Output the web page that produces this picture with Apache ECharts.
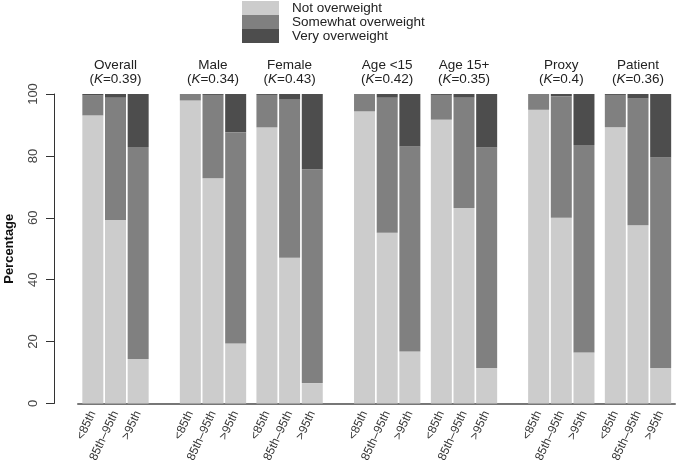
<!DOCTYPE html>
<html>
<head>
<meta charset="utf-8">
<script src="https://cdn.jsdelivr.net/npm/echarts@6/dist/echarts.min.js"></script>
<style>html,body{margin:0;padding:0;background:#fff}#c{width:676px;height:467px}</style>
</head>
<body>
<div id="c"></div>
<script>
// ---- data ----
var groups = ['Overall', 'Male', 'Female', 'Age <15', 'Age 15+', 'Proxy', 'Patient'];
var kappas = ['0.39', '0.34', '0.43', '0.42', '0.35', '0.4', '0.36'];
var categories = ['<85th', '85th\u201395th', '>95th'];
var levels = ['Not overweight', 'Somewhat overweight', 'Very overweight'];
var notOverweight = [
  [93.1, 59.3, 14.4], [97.9, 72.8, 19.4], [89.2, 47.1, 6.6],
  [94.4, 55.2, 16.8], [91.7, 63.2, 11.5], [94.9, 60.0, 16.5], [89.3, 57.6, 11.5]
];
var somewhatOverweight = [
  [6.4, 39.5, 68.5], [2.1, 26.9, 68.2], [10.5, 51.1, 69.1],
  [5.6, 43.6, 66.2], [8.0, 35.8, 71.2], [5.1, 39.3, 67.0], [10.4, 40.9, 68.0]
];
var veryOverweight = [
  [0.5, 1.2, 17.1], [0.0, 0.3, 12.4], [0.3, 1.8, 24.3],
  [0.0, 1.2, 17.0], [0.3, 1.0, 17.3], [0.0, 0.7, 16.5], [0.3, 1.5, 20.5]
];
var yTicks = { min: 0, max: 100, interval: 20 };

// ---- layout / style ----
var colors = ['#cccccc', '#808080', '#4d4d4d'];
var gridLefts = [81.5, 179, 255.6, 353.2, 430, 527.3, 604];
var gridWidth = 68;
var plotTop = 94, plotBottom = 63.5;
var font = "'Liberation Sans', Arial, sans-serif";
var narrow = "'Liberation Sans Narrow', 'Arial Narrow', 'Liberation Sans', Arial, sans-serif";

var grids = [], xAxes = [], yAxes = [], series = [];
var levelData = [notOverweight, somewhatOverweight, veryOverweight];

groups.forEach(function (g, i) {
  grids.push({ left: gridLefts[i], width: gridWidth, top: plotTop, bottom: plotBottom });
  xAxes.push({
    type: 'category', gridIndex: i, data: categories, position: 'bottom',
    axisLine: { show: false }, axisTick: { show: false },
    axisLabel: { rotate: 65, margin: 8, fontSize: 12, color: '#333', fontFamily: font, interval: 0 }
  });
  yAxes.push({ type: 'value', gridIndex: i, min: yTicks.min, max: yTicks.max, show: false });
  levels.forEach(function (lv, s) {
    series.push({
      type: 'bar', name: lv, xAxisIndex: i, yAxisIndex: i, stack: 'g' + i,
      barWidth: 21, itemStyle: { color: colors[s] },
      emphasis: { disabled: true },
      data: levelData[s][i]
    });
  });
});
// top axes carrying group titles
groups.forEach(function (g, i) {
  xAxes.push({
    type: 'category', gridIndex: i, data: categories, position: 'top',
    axisLine: { show: false }, axisTick: { show: false }, axisLabel: { show: false },
    name: g + '\n({k|K}=' + kappas[i] + ')', nameLocation: 'middle', nameGap: 8,
    nameTextStyle: {
      fontSize: 13.5, lineHeight: 13.5, color: '#222', fontFamily: narrow, align: 'center',
      rich: { k: { fontStyle: 'italic', fontSize: 13.5, lineHeight: 13.5, color: '#222', fontFamily: narrow } }
    }
  });
});
// frame grid: baseline
var gi = groups.length;
grids.push({ left: 78, right: 1, top: plotTop, bottom: plotBottom });
xAxes.push({
  type: 'value', gridIndex: gi, min: 0, max: 1,
  axisLine: { show: true, lineStyle: { color: '#777', width: 2 } },
  axisTick: { show: false }, axisLabel: { show: false }, splitLine: { show: false }
});
yAxes.push({ type: 'value', gridIndex: gi, min: 0, max: 1, show: false });
// y-axis grid
grids.push({ left: 54, width: 1, top: plotTop, bottom: plotBottom });
xAxes.push({ type: 'value', gridIndex: gi + 1, min: 0, max: 1, show: false });
yAxes.push({
  type: 'value', gridIndex: gi + 1, min: yTicks.min, max: yTicks.max, interval: yTicks.interval,
  position: 'left',
  axisLine: { show: true, lineStyle: { color: '#333', width: 1 } },
  axisTick: { show: true, length: 8, lineStyle: { color: '#333' } },
  axisLabel: { rotate: 90, margin: 14, fontSize: 13, color: '#444', fontFamily: font },
  splitLine: { show: false },
  name: 'Percentage', nameLocation: 'middle', nameGap: 38,
  nameTextStyle: { fontSize: 13, fontWeight: 'bold', color: '#111', fontFamily: font }
});

var chart = echarts.init(document.getElementById('c'), null, { renderer: 'canvas' });
chart.setOption({
  animation: false,
  backgroundColor: '#fff',
  legend: {
    data: levels, orient: 'vertical', left: 242, top: 1, padding: 0,
    itemWidth: 37, itemHeight: 14, itemGap: 0, icon: 'rect', selectedMode: false,
    textStyle: { fontSize: 13.5, lineHeight: 14, color: '#222', fontFamily: narrow, padding: [0, 0, 0, 8] }
  },
  grid: grids,
  xAxis: xAxes,
  yAxis: yAxes,
  series: series
});
</script>
</body>
</html>
